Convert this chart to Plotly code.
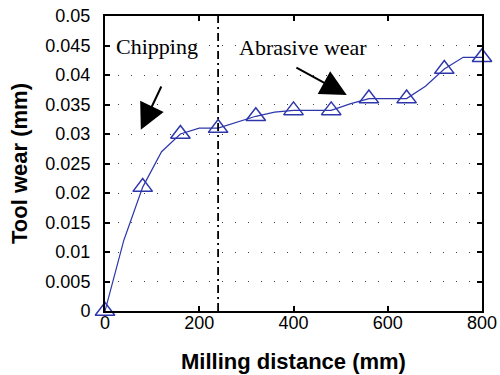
import plotly.graph_objects as go

# Measured tool wear (markers)
distance = [0, 80, 160, 240, 320, 400, 480, 560, 640, 720, 800]
wear = [0.0, 0.021, 0.030, 0.031, 0.033, 0.034, 0.034, 0.036, 0.036, 0.041, 0.043]

# Fitted curve
curve_x = [0, 40, 80, 120, 160, 200, 240, 280, 320, 360, 400, 440, 480,
           520, 560, 600, 640, 680, 720, 760, 800]
curve_y = [0.0, 0.012, 0.021, 0.027, 0.030, 0.031, 0.031, 0.032, 0.033, 0.0337,
           0.034, 0.034, 0.034, 0.0351, 0.036, 0.036, 0.036, 0.0381, 0.041, 0.043, 0.043]

x_ticks = [0, 200, 400, 600, 800]
y_ticks = [0, 0.005, 0.01, 0.015, 0.02, 0.025, 0.03, 0.035, 0.04, 0.045, 0.05]
y_tick_labels = ["0", "0.005", "0.01", "0.015", "0.02", "0.025", "0.03",
                 "0.035", "0.04", "0.045", "0.05"]
boundary_x = 240

blue = "rgb(45,55,170)"

fig = go.Figure()
fig.add_trace(go.Scatter(x=curve_x, y=curve_y, mode="lines",
                         line=dict(color=blue, width=1.2), showlegend=False,
                         cliponaxis=False))
fig.add_trace(go.Scatter(x=distance, y=wear, mode="markers",
                         marker=dict(symbol="triangle-up-open", size=17,
                                     color=blue, line=dict(width=1.5, color=blue)),
                         showlegend=False, cliponaxis=False))

fig.add_shape(type="line", x0=boundary_x, x1=boundary_x, y0=0, y1=0.05,
              xref="x", yref="y",
              line=dict(color="black", width=1.8, dash="8px,4px,2px,4px"))

serif = "Liberation Serif, Times New Roman, serif"
fig.add_annotation(x=111, y=0.0449, text="Chipping", showarrow=False,
                   font=dict(family=serif, size=22, color="black"))
fig.add_annotation(x=420, y=0.0446, text="Abrasive wear", showarrow=False,
                   font=dict(family=serif, size=22, color="black"))
fig.add_annotation(x=76, y=0.0307, ax=121, ay=0.0383, axref="x", ayref="y",
                   text="", showarrow=True, arrowhead=2, arrowsize=2.6,
                   arrowwidth=2, arrowcolor="black")
fig.add_annotation(x=513, y=0.0366, ax=403, ay=0.0414, axref="x", ayref="y",
                   text="", showarrow=True, arrowhead=2, arrowsize=2.6,
                   arrowwidth=2, arrowcolor="black")

sans = "Liberation Sans, Arial, sans-serif"
fig.update_layout(
    width=500, height=375,
    margin=dict(l=105, r=18, t=16, b=64),
    paper_bgcolor="white", plot_bgcolor="white",
    font=dict(family=sans, size=18, color="black"),
)
fig.update_xaxes(
    range=[0, 800], tickvals=x_ticks, ticks="inside", ticklen=5, tickwidth=1.5,
    tickcolor="black", showline=True, linecolor="black", linewidth=2,
    mirror="ticks", showgrid=False, zeroline=False, automargin=False,
    tickfont=dict(size=18, color="black"), ticklabelstandoff=-6,
    title=dict(text="<b>Milling distance (mm)</b>", font=dict(size=22), standoff=22),
)
fig.update_yaxes(
    range=[0, 0.05], tickvals=y_ticks, ticktext=y_tick_labels, ticks="inside",
    ticklen=5, tickwidth=1.5, tickcolor="black", showline=True, linecolor="black",
    linewidth=2, mirror="ticks", showgrid=True, gridcolor="rgb(60,60,60)",
    gridwidth=1.2, griddash="1.2px,11.8px", zeroline=False, automargin=False,
    tickfont=dict(size=18, color="black"), ticklabelstandoff=9,
    title=dict(text="<b>Tool wear (mm)</b>", font=dict(size=22), standoff=12),
)

fig.write_html("out.html")
